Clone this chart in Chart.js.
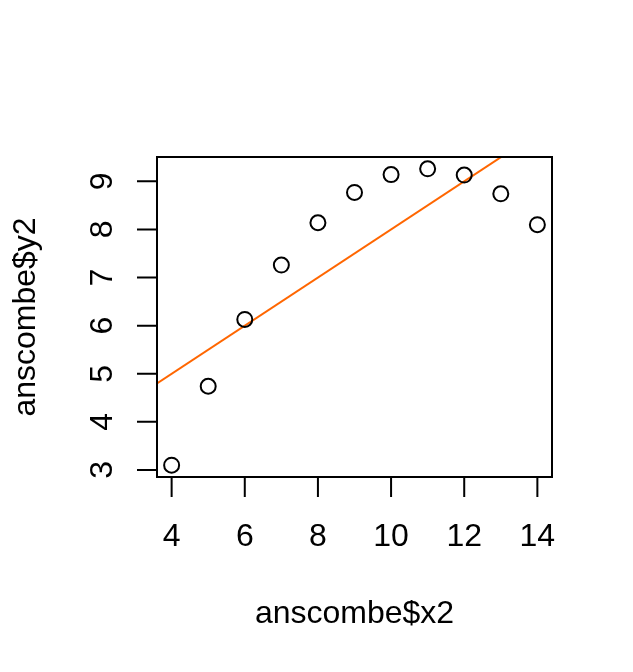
<!DOCTYPE html>
<html lang="en">
<head>
  <meta charset="UTF-8">
  <title>anscombe x2 / y2</title>
  <script src="https://cdn.jsdelivr.net/npm/chart.js"></script>
  <style>
    html, body { margin: 0; padding: 0; background: #fff; }
    canvas { display: block; }
  </style>
</head>
<body>
  <canvas id="grafico" width="633" height="672"></canvas>
  <script>
    // anscombe$x2 / anscombe$y2
    const valoresX = [10, 8, 13, 9, 11, 14, 6, 4, 12, 7, 5];
    const valoresY = [9.14, 8.14, 8.74, 8.77, 9.26, 8.10, 6.13, 3.10, 9.13, 7.26, 4.74];
    // reta ajustada (lm): intercepto e inclinacao
    const intercepto = 3.001;
    const inclinacao = 0.5;
    const ticksX = [4, 6, 8, 10, 12, 14];
    const ticksY = [3, 4, 5, 6, 7, 8, 9];
    const tituloX = 'anscombe$x2';
    const tituloY = 'anscombe$y2';

    const limX = [3.6, 14.4];
    const limY = [2.8536, 9.5064];

    const pontos = valoresX.map((x, i) => ({ x: x, y: valoresY[i] }));
    const reta = limX.map(x => ({ x: x, y: intercepto + inclinacao * x }));

    const fonte = '32px "Liberation Sans", Arial, sans-serif';

    // eixos no estilo do R base (caixa, ticks para fora, rotulos do y girados)
    const eixosR = {
      id: 'eixosR',
      afterDraw(chart) {
        const c = chart.ctx;
        const a = chart.chartArea;
        const sx = chart.scales.x;
        const sy = chart.scales.y;
        c.save();
        c.strokeStyle = '#000';
        c.fillStyle = '#000';
        c.lineWidth = 2;
        c.strokeRect(a.left, a.top, a.right - a.left, a.bottom - a.top);

        c.font = fonte;
        // eixo x
        c.beginPath();
        ticksX.forEach(v => {
          const px = sx.getPixelForValue(v);
          c.moveTo(px, a.bottom);
          c.lineTo(px, a.bottom + 20);
        });
        c.stroke();
        c.textAlign = 'center';
        c.textBaseline = 'alphabetic';
        ticksX.forEach(v => {
          c.fillText(String(v), sx.getPixelForValue(v), a.bottom + 69);
        });

        // eixo y
        c.beginPath();
        ticksY.forEach(v => {
          const py = sy.getPixelForValue(v);
          c.moveTo(a.left, py);
          c.lineTo(a.left - 20, py);
        });
        c.stroke();
        ticksY.forEach(v => {
          c.save();
          c.translate(a.left - 45, sy.getPixelForValue(v));
          c.rotate(-Math.PI / 2);
          c.fillText(String(v), 0, 0);
          c.restore();
        });

        // titulos
        c.fillText(tituloX, (a.left + a.right) / 2, 623);
        c.save();
        c.translate(35, (a.top + a.bottom) / 2);
        c.rotate(-Math.PI / 2);
        c.fillText(tituloY, 0, 0);
        c.restore();
        c.restore();
      }
    };

    const ctx = document.getElementById('grafico').getContext('2d');
    const grafico = new Chart(ctx, {
      type: 'scatter',
      data: {
        datasets: [{
          label: 'pontos',
          data: pontos,
          pointStyle: 'circle',
          pointRadius: 7.5,
          pointHoverRadius: 7.5,
          pointBorderWidth: 2,
          pointBorderColor: '#000',
          pointBackgroundColor: 'rgba(0,0,0,0)',
          clip: false
        }, {
          label: 'reta',
          type: 'line',
          data: reta,
          borderColor: '#ff6600',
          borderWidth: 2,
          pointRadius: 0,
          fill: false,
          clip: 0
        }]
      },
      options: {
        responsive: false,
        animation: false,
        events: [],
        layout: {
          padding: { left: 157, top: 157, right: 81, bottom: 195 }
        },
        scales: {
          x: { type: 'linear', min: limX[0], max: limX[1], display: false },
          y: { type: 'linear', min: limY[0], max: limY[1], display: false }
        },
        plugins: {
          legend: { display: false },
          tooltip: { enabled: false }
        }
      },
      plugins: [eixosR]
    });
  </script>
</body>
</html>
